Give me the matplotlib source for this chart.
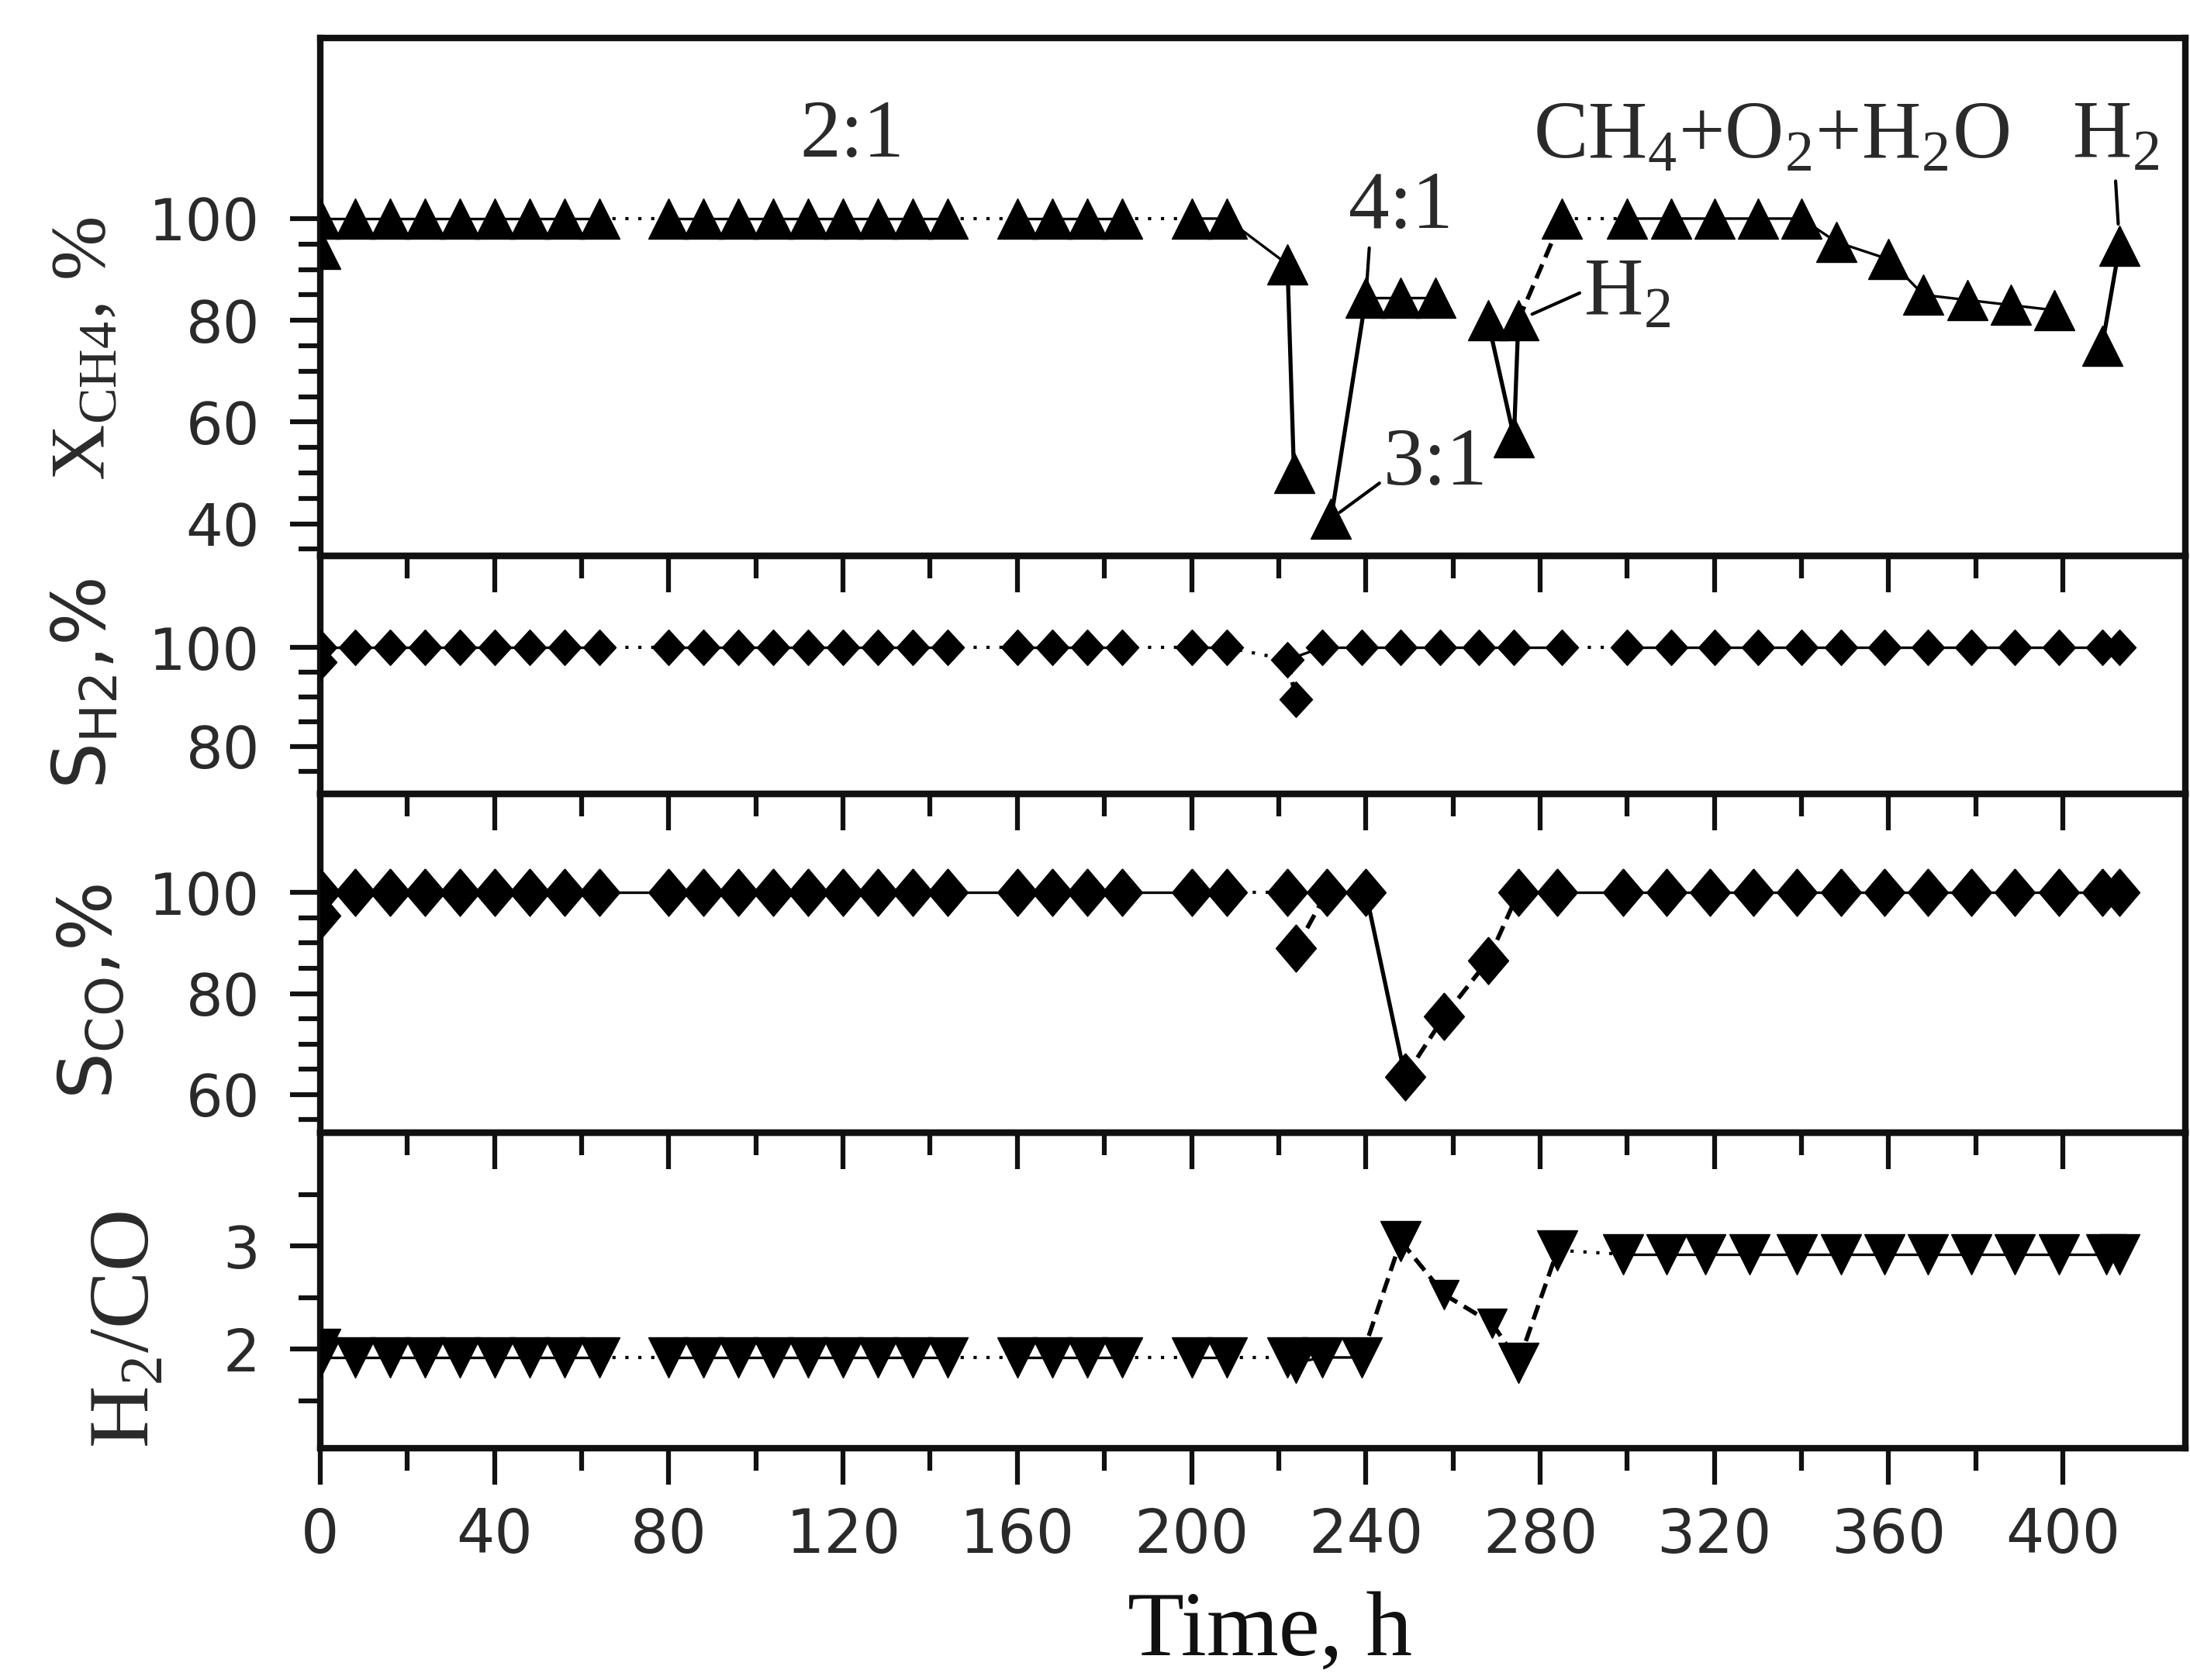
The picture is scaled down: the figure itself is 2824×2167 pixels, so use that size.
import matplotlib
matplotlib.use('Agg')
import matplotlib.pyplot as plt
from matplotlib.ticker import FixedLocator, NullFormatter

# ---------------- data ----------------
# Panel 1: CH4 conversion, %
t1 = [0, 0, 8, 16, 24, 32, 40, 48, 56, 64,
      80, 88, 96, 104, 112, 120, 128, 136, 144,
      160, 168, 176, 184,
      200, 208,
      222, 223.5, 232,
      240, 248, 256,
      268, 274, 275, 285,
      300, 310, 320, 330, 340,
      348, 360, 368, 378, 388, 398,
      409, 413]
y1 = [94, 100, 100, 100, 100, 100, 100, 100, 100, 100,
      100, 100, 100, 100, 100, 100, 100, 100, 100,
      100, 100, 100, 100,
      100, 100,
      91, 50, 41,
      84.5, 84.5, 84.5,
      80, 57, 80, 100,
      100, 100, 100, 100, 100,
      95.4, 92, 85, 84, 83, 82,
      75, 94.7]

# Panel 2: H2 selectivity, %
t2 = [0, 0, 8, 16, 24, 32, 40, 48, 56, 64,
      80, 88, 96, 104, 112, 120, 128, 136, 144,
      160, 168, 176, 184,
      200, 208,
      222, 224,
      230, 239, 248, 257, 266, 274, 285,
      300, 310, 320, 330, 340, 349, 359, 369, 379, 389, 399, 409, 413]
y2 = [97, 100, 100, 100, 100, 100, 100, 100, 100, 100,
      100, 100, 100, 100, 100, 100, 100, 100, 100,
      100, 100, 100, 100,
      100, 100,
      97.5, 89.5,
      100, 100, 100, 100, 100, 100, 100,
      100, 100, 100, 100, 100, 100, 100, 100, 100, 100, 100, 100, 100]

# Panel 3: CO selectivity, %
t3 = [0, 0, 8, 16, 24, 32, 40, 48, 56, 64,
      80, 88, 96, 104, 112, 120, 128, 136, 144,
      160, 168, 176, 184,
      200, 208,
      222, 224, 231, 240,
      249, 258, 268,
      275, 284,
      299, 309, 319, 329, 339, 349, 359, 369, 379, 389, 399, 409, 413]
y3 = [95.5, 100, 100, 100, 100, 100, 100, 100, 100, 100,
      100, 100, 100, 100, 100, 100, 100, 100, 100,
      100, 100, 100, 100,
      100, 100,
      100, 89, 100, 100,
      63.5, 75.5, 86.5,
      100, 100,
      100, 100, 100, 100, 100, 100, 100, 100, 100, 100, 100, 100, 100]

# Panel 4: H2/CO ratio
t4 = [0, 0, 8, 16, 24, 32, 40, 48, 56, 64,
      80, 88, 96, 104, 112, 120, 128, 136, 144,
      160, 168, 176, 184,
      200, 208,
      222, 224, 230, 239,
      248, 258, 269, 275, 284,
      299, 309, 318, 328, 339, 349, 359, 369, 379, 389, 399, 410, 413]
y4 = [2.0, 1.92, 1.92, 1.92, 1.92, 1.92, 1.92, 1.92, 1.92, 1.92,
      1.92, 1.92, 1.92, 1.92, 1.92, 1.92, 1.92, 1.92, 1.92,
      1.92, 1.92, 1.92, 1.92,
      1.92, 1.92,
      1.92, 1.87, 1.92, 1.92,
      3.05, 2.53, 2.25, 1.87, 2.96,
      2.92, 2.92, 2.92, 2.92, 2.92, 2.92, 2.92, 2.92, 2.92, 2.92, 2.92, 2.92, 2.92]

x_major = [0, 40, 80, 120, 160, 200, 240, 280, 320, 360, 400]
x_minor = [20, 60, 100, 140, 180, 220, 260, 300, 340, 380]
x_labels = ['0', '40', '80', '120', '160', '200', '240', '280', '320', '360', '400']

y1_major = [40, 60, 80, 100]
y1_minor = [35, 45, 50, 55, 65, 70, 75, 85, 90, 95]
y2_major = [80, 100]
y2_minor = [75, 85, 90, 95]
y3_major = [60, 80, 100]
y3_minor = [55, 65, 70, 75, 85, 90, 95]
y4_major = [2, 3]
y4_minor = [1.5, 2.5, 3.5]

# ---------------- figure ----------------
W, H = 2824, 2167
fig = plt.figure(figsize=(W / 100, H / 100), dpi=100)
fig.patch.set_facecolor('white')

LEFT, RIGHT = 413, 2818


def box(top, bottom):
    return [LEFT / W, 1 - bottom / H, (RIGHT - LEFT) / W, (bottom - top) / H]


ax1 = fig.add_axes(box(49, 717))
ax2 = fig.add_axes(box(717, 1024))
ax3 = fig.add_axes(box(1024, 1461))
ax4 = fig.add_axes(box(1461, 1868))
axes = [ax1, ax2, ax3, ax4]

SANS = 'DejaVu Sans'
SERIF = 'Liberation Serif'
TXT = '#2a2a2a'

lims = [(33.7, 135.5), (70.4, 118.5), (52.4, 119.6), (1.04, 4.10)]
ymaj = [y1_major, y2_major, y3_major, y4_major]
ymin = [y1_minor, y2_minor, y3_minor, y4_minor]

for ax, lim, mj, mn in zip(axes, lims, ymaj, ymin):
    ax.set_facecolor('none')
    ax.set_xlim(0, 428.1)
    ax.set_ylim(*lim)
    for sp in ax.spines.values():
        sp.set_linewidth(6)
        sp.set_color('#111111')
    ax.xaxis.set_major_locator(FixedLocator(x_major))
    ax.xaxis.set_minor_locator(FixedLocator(x_minor))
    ax.yaxis.set_major_locator(FixedLocator(mj))
    ax.yaxis.set_minor_locator(FixedLocator(mn))
    ax.yaxis.set_minor_formatter(NullFormatter())
    ax.tick_params(axis='x', which='both', direction='out', top=False,
                   bottom=True, labelbottom=False, width=4.5, color='#111111')
    ax.tick_params(axis='x', which='major', length=34)
    ax.tick_params(axis='x', which='minor', length=21)
    ax.tick_params(axis='y', which='both', direction='out', left=True,
                   right=False, width=4.5, color='#111111', pad=28,
                   labelsize=54, labelcolor=TXT)
    ax.tick_params(axis='y', which='major', length=28)
    ax.tick_params(axis='y', which='minor', length=20)
    for lab in ax.get_yticklabels():
        lab.set_family(SANS)

ax4.set_xticks(x_major)
ax4.set_xticklabels(x_labels)
ax4.tick_params(axis='x', which='major', labelbottom=True, labelsize=56,
                labelcolor=TXT, pad=20)
for lab in ax4.get_xticklabels():
    lab.set_family(SANS)

K = '#000000'


def run(ax, t, y, i0, i1, **kw):
    ax.plot(t[i0:i1 + 1], y[i0:i1 + 1], color=K, zorder=2, **kw)


def seg(ax, t, y, i, j, **kw):
    ax.plot([t[i], t[j]], [y[i], y[j]], color=K, zorder=2, **kw)


thin = dict(lw=2.4, solid_capstyle='butt')
thick = dict(lw=3.8, solid_capstyle='butt')
dot = dict(lw=3.0, ls=(0, (1, 3)))
dash = dict(lw=4.0, ls=(0, (3.5, 1.8)))

# ---- panel 1 ----
for a, b in [(1, 9), (10, 18), (19, 22), (23, 25), (28, 30), (35, 45)]:
    run(ax1, t1, y1, a, b, **thin)
for a, b in [(9, 10), (18, 19), (22, 23), (34, 35)]:
    seg(ax1, t1, y1, a, b, **dot)
for a, b in [(25, 26), (27, 28), (31, 32), (32, 33), (46, 47)]:
    seg(ax1, t1, y1, a, b, **thick)
seg(ax1, t1, y1, 33, 34, **dash)
ax1.plot(t1, y1, ls='none', marker='^', ms=38, color=K, mec=K, zorder=3)

ann_font = dict(family=SERIF, size=76, color=TXT, ha='center', va='center')
lead = dict(arrowstyle='-', lw=3.0, color=K)
ax1.text(122, 116, '2:1', **ann_font)
ax1.text(333, 116, r'CH$_\mathregular{4}$+O$_\mathregular{2}$+H$_\mathregular{2}$O', **ann_font)
ax1.annotate('4:1', xy=(t1[28], y1[28]), xytext=(248, 102),
             arrowprops=dict(**lead, relpos=(0.2, 0.0), shrinkA=0, shrinkB=14),
             **ann_font)
ax1.annotate('3:1', xy=(t1[27], y1[27]), xytext=(256, 51.5),
             arrowprops=dict(**lead, relpos=(0.0, 0.3), shrinkA=2, shrinkB=10),
             **ann_font)
ax1.annotate(r'H$_\mathregular{2}$', xy=(t1[33], y1[33]), xytext=(300, 85),
             arrowprops=dict(**lead, relpos=(0.0, 0.55), shrinkA=2, shrinkB=14),
             **ann_font)
ax1.annotate(r'H$_\mathregular{2}$', xy=(t1[47], y1[47]), xytext=(412, 116),
             arrowprops=dict(**lead, relpos=(0.5, 0.0), shrinkA=4, shrinkB=20),
             **ann_font)

# ---- panel 2 ----
for a, b in [(1, 9), (10, 18), (19, 22), (23, 24), (27, 33), (34, 46)]:
    run(ax2, t2, y2, a, b, **thin)
for a, b in [(9, 10), (18, 19), (22, 23), (24, 25), (33, 34)]:
    seg(ax2, t2, y2, a, b, **dot)
seg(ax2, t2, y2, 25, 27, **thin)
seg(ax2, t2, y2, 25, 26, **dash)
dia2 = [(0, 1), (0.92, 0), (0, -1), (-0.92, 0), (0, 1)]
ax2.plot(t2, y2, ls='none', marker=dia2, ms=33, color=K, mec=K, zorder=3)

# ---- panel 3 ----
for a, b in [(1, 24), (32, 46)]:
    run(ax3, t3, y3, a, b, **thin)
seg(ax3, t3, y3, 25, 27, **thin)
seg(ax3, t3, y3, 27, 28, **thin)
seg(ax3, t3, y3, 24, 25, **dot)
seg(ax3, t3, y3, 28, 29, **thick)
for a, b in [(26, 27), (29, 30), (30, 31), (31, 32)]:
    seg(ax3, t3, y3, a, b, **dash)
dia3 = [(0, 1), (0.85, 0), (0, -1), (-0.85, 0), (0, 1)]
ax3.plot(t3, y3, ls='none', marker=dia3, ms=44, color=K, mec=K, zorder=3)

# ---- panel 4 ----
for a, b in [(1, 9), (10, 18), (19, 22), (23, 24), (25, 28), (34, 46)]:
    run(ax4, t4, y4, a, b, **thin)
for a, b in [(9, 10), (18, 19), (22, 23), (24, 25), (33, 34)]:
    seg(ax4, t4, y4, a, b, **dot)
for a, b in [(28, 29), (29, 30), (30, 31), (31, 32), (32, 33)]:
    seg(ax4, t4, y4, a, b, **dash)
small4 = {30, 31}
big_t = [t for i, t in enumerate(t4) if i not in small4]
big_y = [v for i, v in enumerate(y4) if i not in small4]
sm_t = [t4[i] for i in sorted(small4)]
sm_y = [y4[i] for i in sorted(small4)]
ax4.plot(big_t, big_y, ls='none', marker='v', ms=38, color=K, mec=K, zorder=3)
ax4.plot(sm_t, sm_y, ls='none', marker='v', ms=27, color=K, mec=K, zorder=3)

# ---------------- axis titles ----------------
lab_kw = dict(rotation=90, ha='center', va='center', color=TXT)
fig.text(110 / W, 1 - 450 / H, r'X$_\mathregular{CH4}$, %', family=SERIF, size=72, **lab_kw)
fig.text(110 / W, 1 - 882 / H, r'S$_\mathregular{H2}$,%', family=SANS, size=68, **lab_kw)
fig.text(118 / W, 1 - 1279 / H, r'S$_\mathregular{CO}$,%', family=SANS, size=68, **lab_kw)
fig.text(165 / W, 1 - 1715 / H, r'H$_\mathregular{2}$/CO', family=SERIF, size=80, **lab_kw)
fig.text(1638 / W, 1 - 2160 / H, 'Time, h', family=SERIF, size=86, color='#111111',
         ha='center', va='bottom')

fig.savefig('out.png', dpi=100, facecolor='white')
